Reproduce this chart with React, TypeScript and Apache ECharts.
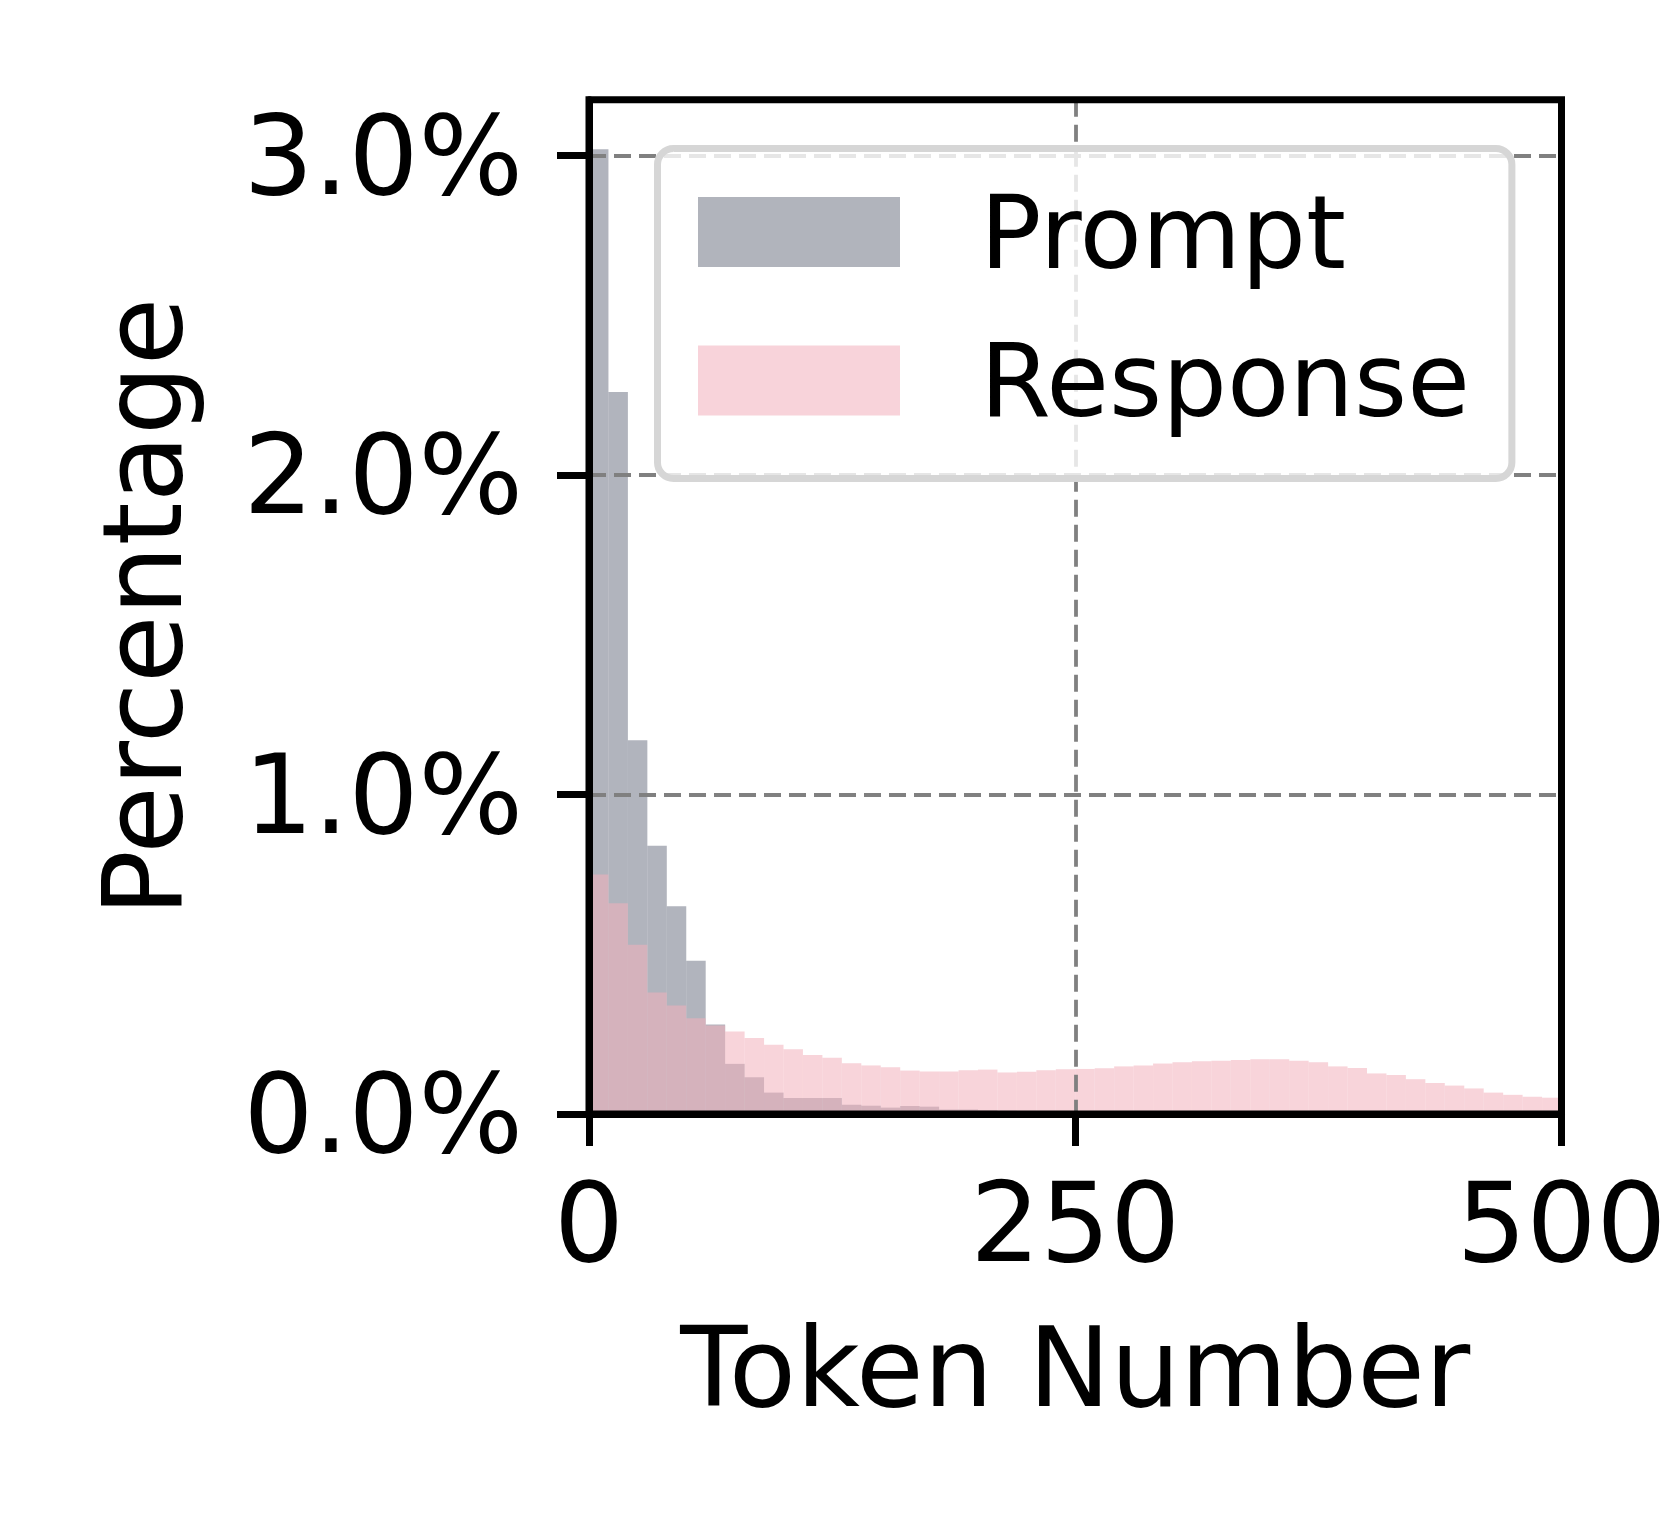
import { useEffect, useRef } from "react";
import * as echarts from "echarts";

// Histogram bins: start token of each 10-token bin
const binStarts = [
  0, 10, 20, 30, 40, 50, 60, 70, 80, 90,
  100, 110, 120, 130, 140, 150, 160, 170, 180, 190,
  200, 210, 220, 230, 240, 250, 260, 270, 280, 290,
  300, 310, 320, 330, 340, 350, 360, 370, 380, 390,
  400, 410, 420, 430, 440, 450, 460, 470, 480, 490,
];

// Percentage of samples per bin
const promptPct = [
  3.02, 2.26, 1.17, 0.84, 0.65, 0.48, 0.28, 0.157, 0.115, 0.067,
  0.05, 0.05, 0.05, 0.029, 0.026, 0.02, 0.025, 0.023, 0.014, 0.014,
  0.012, 0.01, 0.008, 0.008, 0.009, 0.006, 0.005, 0.005, 0.004, 0.004,
  0.005, 0.006, 0.009, 0.008, 0.006, 0.006, 0.007, 0.007, 0.005, 0.003,
  0.002, 0.002, 0.001, 0.001, 0.001, 0.001, 0.001, 0.001, 0.001, 0.001,
];

const responsePct = [
  0.75, 0.66, 0.53, 0.38, 0.34, 0.3, 0.277, 0.258, 0.238, 0.217,
  0.203, 0.185, 0.176, 0.159, 0.152, 0.146, 0.136, 0.133, 0.133, 0.137,
  0.139, 0.13, 0.132, 0.137, 0.14, 0.141, 0.143, 0.149, 0.152, 0.158,
  0.162, 0.165, 0.167, 0.169, 0.171, 0.171, 0.167, 0.162, 0.149, 0.144,
  0.127, 0.122, 0.109, 0.097, 0.089, 0.08, 0.067, 0.06, 0.054, 0.051,
];

const xTicks = [0, 250, 500];
const yTicks = [0, 1, 2, 3];

const FONT = "DejaVu Sans";
const FS = 110;

export default function App() {
  const ref = useRef<HTMLDivElement>(null);

  useEffect(() => {
    document.body.style.margin = "0";
    const chart = echarts.init(ref.current!, null, { renderer: "svg" });
    const gridLine = {
      show: true,
      lineStyle: { color: "#808080", width: 3.8, type: [17, 8] as number[] },
    };
    chart.setOption({
      animation: false,
      backgroundColor: "#ffffff",
      grid: {
        left: 589,
        right: 99.5,
        top: 99.7,
        bottom: 414,
        outerBoundsMode: "none",
        containLabel: false,
        show: true,
        borderColor: "#000",
        borderWidth: 7,
        backgroundColor: "transparent",
        z: 6,
      },
      legend: {
        orient: "vertical",
        left: 657.5,
        top: 148.5,
        itemWidth: 202,
        itemHeight: 70,
        itemGap: 46.5,
        padding: [32.5, 42, 47, 40.5],
        backgroundColor: "rgba(255,255,255,0.8)",
        borderColor: "#d6d6d6",
        borderWidth: 7,
        borderRadius: 16,
        selectedMode: false,
        z: 8,
        icon: "rect",
        textStyle: {
          fontFamily: FONT,
          fontSize: 102,
          lineHeight: 102,
          color: "#000",
          padding: [0, 0, 0, 75],
        },
        data: [
          { name: "Prompt", itemStyle: { color: "#b1b4bc", opacity: 1 } },
          { name: "Response", itemStyle: { color: "#f8d3da", opacity: 1 } },
        ],
      },
      xAxis: [
        {
          type: "category",
          data: binStarts.map(String),
          show: false,
          boundaryGap: true,
        },
        {
          type: "value",
          min: xTicks[0],
          max: xTicks[xTicks.length - 1],
          interval: 250,
          position: "bottom",
          z: 5,
          axisLine: { show: true, onZero: false, lineStyle: { color: "#000", width: 7 } },
          axisTick: { show: true, length: 32, lineStyle: { color: "#000", width: 7 } },
          axisLabel: {
            margin: 54,
            fontSize: FS,
            fontFamily: FONT,
            color: "#000",
            showMinLabel: true,
            showMaxLabel: true,
          },
          splitLine: gridLine,
          name: "Token Number",
          nameLocation: "middle",
          nameGap: 198.6,
          nameTextStyle: { fontSize: FS, fontFamily: FONT, color: "#000" },
        },
      ],
      yAxis: {
        type: "value",
        min: 0,
        max: 3.175,
        interval: 1,
        z: 5,
        axisLine: { show: true, onZero: false, lineStyle: { color: "#000", width: 7 } },
        axisTick: {
          show: true,
          length: 32,
          customValues: yTicks,
          lineStyle: { color: "#000", width: 7 },
        },
        axisLabel: {
          customValues: yTicks,
          margin: 66,
          fontSize: FS,
          fontFamily: FONT,
          color: "#000",
          formatter: (v: number) => v.toFixed(1) + "%",
        },
        splitLine: gridLine,
        name: "Percentage",
        nameLocation: "middle",
        nameRotate: 90,
        nameGap: 391,
        nameTextStyle: { fontSize: FS, fontFamily: FONT, color: "#000" },
      },
      series: [
        {
          type: "bar",
          name: "Prompt",
          xAxisIndex: 0,
          data: promptPct,
          barWidth: "100%",
          barGap: "-100%",
          itemStyle: { color: "rgb(113,119,135)", opacity: 0.55 },
        },
        {
          type: "bar",
          name: "Response",
          xAxisIndex: 0,
          data: responsePct,
          barWidth: "100%",
          barGap: "-100%",
          itemStyle: { color: "rgb(242,177,188)", opacity: 0.55 },
        },
      ],
    });
    return () => chart.dispose();
  }, []);

  return <div ref={ref} style={{ width: 1661, height: 1528 }} />;
}
